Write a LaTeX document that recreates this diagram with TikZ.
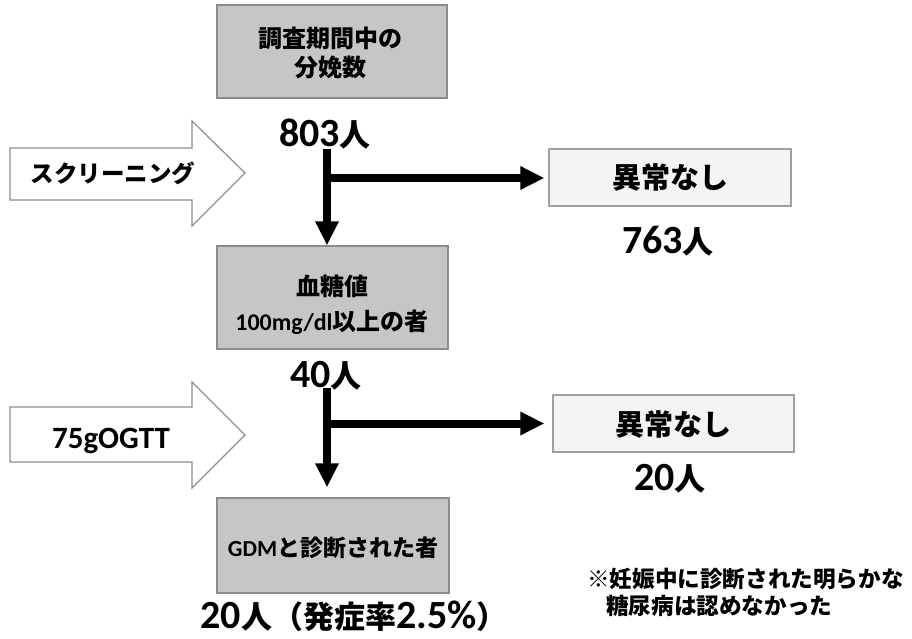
\documentclass[tikz,border=0pt]{standalone}
\usepackage{fontspec}
\setmainfont{Carlito}
\newfontfamily\jp{Noto Sans CJK JP}
\usetikzlibrary{arrows.meta}
\definecolor{boxgray}{RGB}{198,198,198}
\definecolor{edgegray}{RGB}{140,140,140}
\definecolor{lightfill}{RGB}{244,244,244}
\definecolor{lightedge}{RGB}{160,160,160}
\tikzset{
  graybox/.style={draw=edgegray, fill=boxgray, line width=1.2pt, inner sep=0pt},
  lightbox/.style={draw=lightedge, fill=lightfill, line width=1.2pt, inner sep=0pt},
  boxtext/.style={inner sep=0pt, align=center, font=\fontsize{24}{29}\selectfont\jp\bfseries},
  countlbl/.style={inner sep=0pt, anchor=base, font=\fontsize{40}{44}\selectfont\bfseries},
  blockarrow/.style={draw=edgegray, fill=white, line width=1.2pt, line join=miter},
  flow/.style={line width=8pt, -{Triangle[width=22pt,length=24pt]}},
}
\newcommand{\jn}[1]{{\fontsize{31}{34}\selectfont\jp\bfseries #1}}
\begin{document}
\begin{tikzpicture}[x=1pt,y=-1pt]
\useasboundingbox (0,0) rectangle (912,638);
% boxes
\node[graybox, minimum width=230pt, minimum height=93pt] (b1) at (332,51.5) {};
\node[boxtext] (b1t) at (330,53) {調査期間中の\\分娩数};
\node[graybox, minimum width=231pt, minimum height=103pt] (b2) at (332.5,297.5) {};
\node[boxtext, font=\fontsize{24}{35}\selectfont\bfseries] (b2t) at (332,305) {{\jp 血糖値}\\{\fontsize{24}{35}\selectfont 100mg/dl}{\jp 以上の者}};
\node[graybox, minimum width=232pt, minimum height=95pt] (b3) at (333,545.5) {};
\node[boxtext, font=\fontsize{23}{28}\selectfont\bfseries] (b3t) at (333,548) {GDM{\jp と診断された者}};
\node[lightbox, minimum width=242pt, minimum height=57pt] (ng1) at (670,177.5) {};
\node[boxtext, font=\fontsize{29}{32}\selectfont\jp\bfseries] (ng1t) at (670,178) {異常なし};
\node[lightbox, minimum width=241pt, minimum height=57pt] (ng2) at (673.5,423.5) {};
\node[boxtext, font=\fontsize{29}{32}\selectfont\jp\bfseries] (ng2t) at (673.5,424) {異常なし};
% counts
\node[countlbl] (c1) at (325,146) {803\jn{人}};
\node[countlbl] (c2) at (668,253) {763\jn{人}};
\node[countlbl] (c3) at (326,387) {40\jn{人}};
\node[countlbl] (c4) at (670,490) {20\jn{人}};
\node[countlbl] (c5) at (354,628) {20\jn{人（発症率}2.5\%\jn{）}};
% block arrows
\draw[blockarrow] (10,148) -- (192,148) -- (192,121) -- (245,173) -- (192,226) -- (192,200) -- (10,200) -- cycle;
\node[inner sep=0pt, font=\fontsize{23.5}{26}\selectfont\jp\bfseries] (scr) at (113,173) {スクリーニング};
\draw[blockarrow] (10,407) -- (192,407) -- (192,382) -- (245,435) -- (192,488) -- (192,462) -- (10,462) -- cycle;
\node[inner sep=0pt, anchor=base, font=\fontsize{31}{34}\selectfont\bfseries] (ogtt) at (111,448) {75gOGTT};
% connectors
\coordinate (v1) at (327,149);
\coordinate (h1) at (323,178);
\draw[flow] (v1) -- (v1 |- b2.north);
\draw[flow, shorten >=4pt] (h1) -- (h1 -| ng1.west);
\coordinate (v2) at (327,388);
\coordinate (h2) at (323,423.5);
\draw[flow, shorten >=10pt] (v2) -- (v2 |- b3.north);
\draw[flow, shorten >=8pt] (h2) -- (h2 -| ng2.west);
% note
\node[inner sep=0pt, anchor=base west, font=\fontsize{22.6}{27}\selectfont\jp\bfseries] (note1) at (587,587) {※妊娠中に診断された明らかな};
\node[inner sep=0pt, anchor=base west, font=\fontsize{22.6}{27}\selectfont\jp\bfseries] (note2) at (606,614) {糖尿病は認めなかった};
\end{tikzpicture}
\end{document}
